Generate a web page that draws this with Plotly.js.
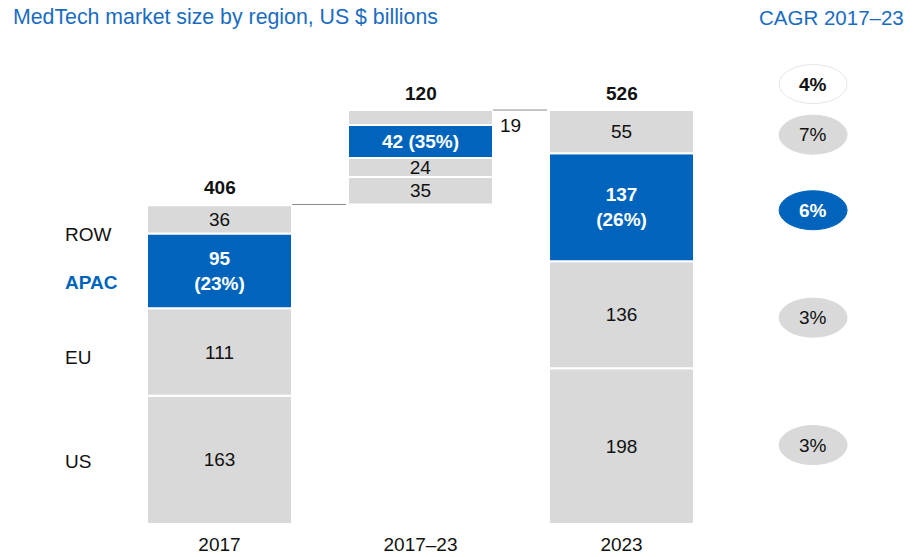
<!DOCTYPE html>
<html>
<head>
<meta charset="utf-8">
<script src="https://cdn.plot.ly/plotly-3.0.1.min.js"></script>
<style>html,body{margin:0;padding:0;background:#fff;}#chart{width:915px;height:557px;}</style>
</head>
<body>
<div id="chart"></div>
<script>
// ---- data ----
const periods = ['2017', '2017\u201323', '2023'];
const regions = ['US', 'EU', 'APAC', 'ROW'];
const usVals = [163, 35, 198];
const euVals = [111, 24, 136];
const apacVals = [95, 42, 137];
const rowVals = [36, 19, 55];
const apacShare = ['23%', '35%', '26%'];
const totals = [406, 120, 526];
const cagrRegions = ['3%', '3%', '6%', '7%']; // US, EU, APAC, ROW
const cagrTotal = '4%';
const titleText = 'MedTech market size by region, US $ billions';
const cagrTitle = 'CAGR 2017\u201323';

// ---- styling ----
const GRAY = '#d9d9d9';
const BLUE = '#0064bd';
const TITLE_BLUE = '#1a6cc0';
const FONT = 'Liberation Sans, Arial, Helvetica, sans-serif';
const BAR_W = 0.7214;
const PILL_X = 2.953;

const series = [usVals, euVals, apacVals, rowVals];
const xs = [0, 1, 2];

// bases: full bars start at 0, the change bar floats from the 2017 total
const bases = series.map(() => [0, 0, 0]);
let run0 = 0, run1 = totals[0], run2 = 0;
series.forEach((s, k) => {
  bases[k][0] = run0; run0 += s[0];
  bases[k][1] = run1; run1 += s[1];
  bases[k][2] = run2; run2 += s[2];
});

const traces = series.map((s, k) => {
  const isApac = regions[k] === 'APAC';
  let text = s.map(v => String(v));
  if (isApac) {
    text = [s[0] + '<br>(' + apacShare[0] + ')', s[1] + ' (' + apacShare[1] + ')', s[2] + '<br>(' + apacShare[2] + ')'];
  }
  if (regions[k] === 'ROW') text[1] = '';
  return {
    type: 'bar',
    x: xs,
    y: s,
    base: bases[k],
    width: BAR_W,
    name: regions[k],
    marker: {color: isApac ? BLUE : GRAY, line: {color: '#ffffff', width: 2}},
    text: text,
    textposition: 'inside',
    insidetextanchor: 'middle',
    constraintext: 'none',
    textangle: 0,
    textfont: {family: FONT, size: 19, color: isApac ? '#ffffff' : '#111111', weight: isApac ? 'bold' : 'normal'},
    hoverinfo: 'skip',
    showlegend: false
  };
});

const annotations = [];
const shapes = [];

// title pieces
annotations.push({xref: 'paper', yref: 'paper', x: 11 / 915, y: 1.047, xanchor: 'left', yanchor: 'middle',
  text: titleText, showarrow: false, font: {family: FONT, size: 21.3, color: TITLE_BLUE}});
annotations.push({xref: 'paper', yref: 'paper', x: 906 / 915, y: 1.047, xanchor: 'right', yanchor: 'middle',
  text: cagrTitle, showarrow: false, font: {family: FONT, size: 20.5, color: TITLE_BLUE}});

// totals above bars
const barTops = [totals[0], run1, run2];
xs.forEach((x, i) => {
  annotations.push({x: x, y: barTops[i], xanchor: 'center', yanchor: 'bottom', yshift: 4,
    text: '<b>' + totals[i] + '</b>', showarrow: false, font: {family: FONT, size: 19, color: '#111'}});
});

// ROW change label outside
annotations.push({x: 1 + BAR_W / 2, y: bases[3][1] + rowVals[1] / 2, xanchor: 'left', yanchor: 'middle',
  xshift: 5, yshift: -8, text: String(rowVals[1]), showarrow: false, font: {family: FONT, size: 19, color: '#111'}});

// region labels at left
const labelY = [79, 211, 307, 368];
regions.forEach((r, k) => {
  const isApac = r === 'APAC';
  annotations.push({xref: 'paper', x: 63 / 915, y: labelY[k], xanchor: 'left', yanchor: 'middle',
    text: isApac ? '<b>' + r + '</b>' : r, showarrow: false,
    font: {family: FONT, size: 19, color: isApac ? BLUE : '#111'}});
});

// connector lines
shapes.push({type: 'line', x0: 0 + BAR_W / 2, x1: 1 - BAR_W / 2 - 0.01, y0: totals[0], y1: totals[0],
  line: {color: '#8c8c8c', width: 1}});
shapes.push({type: 'line', x0: 1 + BAR_W / 2, x1: 2 - BAR_W / 2 - 0.01, y0: totals[2], y1: totals[2],
  line: {color: '#8c8c8c', width: 1}});

// CAGR pills
function pill(yc, txt, fill, border, color, bold, dy) {
  shapes.push({type: 'circle', xref: 'x', yref: 'y', xsizemode: 'pixel', ysizemode: 'pixel',
    xanchor: PILL_X, yanchor: yc, x0: -34, x1: 34, y0: -19.5 - dy, y1: 19.5 - dy,
    fillcolor: fill, line: {color: border, width: 1}});
  annotations.push({x: PILL_X, y: yc, xanchor: 'center', yanchor: 'middle', showarrow: false, yshift: -dy,
    text: bold ? '<b>' + txt + '</b>' : txt, font: {family: FONT, size: 19, color: color}});
}
regions.forEach((r, k) => {
  const yc = bases[k][2] + series[k][2] / 2;
  if (r === 'APAC') pill(yc, cagrRegions[k], BLUE, BLUE, '#ffffff', true, 3);
  else if (r === 'US') pill(yc, cagrRegions[k], GRAY, GRAY, '#111', false, -1);
  else pill(yc, cagrRegions[k], GRAY, GRAY, '#111', false, 3);
});
pill(totals[2] + 33, cagrTotal, '#ffffff', '#e6e6e6', '#111', true, 0);

const layout = {
  width: 915, height: 557,
  margin: {l: 0, r: 0, t: 40, b: 33},
  paper_bgcolor: '#ffffff', plot_bgcolor: '#ffffff',
  barmode: 'overlay',
  showlegend: false,
  xaxis: {range: [-1.092, 3.460], tickvals: xs, ticktext: periods, showgrid: false, zeroline: false,
    showline: false, ticks: '', ticklabelstandoff: 7,
    tickfont: {family: FONT, size: 19, color: '#111'}, fixedrange: true},
  yaxis: {range: [0, 615], visible: false, showgrid: false, zeroline: false, fixedrange: true},
  annotations: annotations,
  shapes: shapes,
  font: {family: FONT}
};

Plotly.newPlot('chart', traces, layout, {displayModeBar: false, staticPlot: true});
</script>
</body>
</html>
